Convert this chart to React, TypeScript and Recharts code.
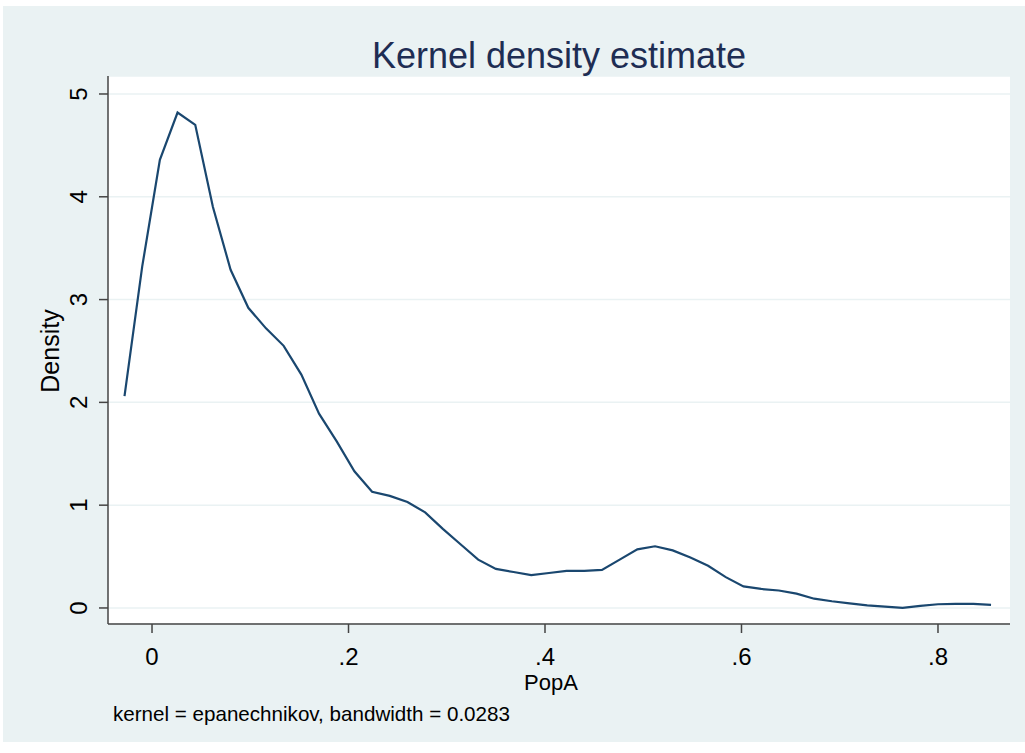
import React from "react";
import { LineChart, Line, XAxis, YAxis, CartesianGrid } from "recharts";

// kdensity evaluation grid (PopA) and estimated density
const popA = [
  -0.028, -0.01, 0.008, 0.026, 0.044, 0.062, 0.08, 0.098, 0.116, 0.134,
  0.152, 0.17, 0.188, 0.206, 0.224, 0.242, 0.26, 0.278, 0.296, 0.314,
  0.332, 0.35, 0.368, 0.386, 0.404, 0.422, 0.44, 0.458, 0.476, 0.494,
  0.512, 0.53, 0.548, 0.566, 0.584, 0.602, 0.62, 0.638, 0.656, 0.674,
  0.692, 0.71, 0.728, 0.746, 0.764, 0.782, 0.8, 0.818, 0.836, 0.854,
];
const density = [
  2.06, 3.32, 4.36, 4.82, 4.7, 3.9, 3.29, 2.92, 2.72, 2.55,
  2.27, 1.89, 1.62, 1.33, 1.13, 1.09, 1.03, 0.93, 0.77, 0.62,
  0.47, 0.38, 0.35, 0.32, 0.34, 0.36, 0.36, 0.37, 0.47, 0.57,
  0.6, 0.56, 0.49, 0.41, 0.3, 0.21, 0.185, 0.17, 0.14, 0.09,
  0.065, 0.045, 0.026, 0.013, 0.0, 0.02, 0.036, 0.04, 0.04, 0.03,
];

const xTicks = [0, 0.2, 0.4, 0.6, 0.8];
const xTickLabels = ["0", ".2", ".4", ".6", ".8"];
const yTicks = [0, 1, 2, 3, 4, 5];
const yTickLabels = ["0", "1", "2", "3", "4", "5"];

const data = popA.map((x, i) => ({ x, y: density[i] }));

const FONT = "'Liberation Sans', Arial, sans-serif";
const BG = "#eaf2f3";
const LINE = "#1a476f";
const AXIS = "#444";

const XTick = (props: any) => {
  const { x, payload } = props;
  const i = xTicks.indexOf(payload.value);
  return (
    <text x={x} y={665} textAnchor="middle" fontSize={24} fill="#000" fontFamily={FONT}>
      {xTickLabels[i] ?? payload.value}
    </text>
  );
};

const YTick = (props: any) => {
  const { y, payload } = props;
  const i = yTicks.indexOf(payload.value);
  return (
    <text
      x={87}
      y={y}
      transform={`rotate(-90 87 ${y})`}
      textAnchor="middle"
      fontSize={24}
      fill="#000"
      fontFamily={FONT}
    >
      {yTickLabels[i] ?? payload.value}
    </text>
  );
};

export default function App() {
  return (
    <div style={{ position: "relative", width: 1025, height: 753, background: "#fff" }}>
      <style>{"body{margin:0}"}</style>
      <div
        style={{ position: "absolute", left: 3, top: 6, width: 1022, height: 736, background: BG }}
      />
      <div style={{ position: "absolute", left: 0, top: 0 }}>
        <LineChart
          width={1025}
          height={753}
          data={data}
          margin={{ top: 76, right: 15, bottom: 0, left: 0 }}
        >
          <CartesianGrid vertical={false} fill="#fff" stroke={BG} strokeWidth={1.5} />
          <XAxis
            dataKey="x"
            type="number"
            domain={[-0.0448, 0.8733]}
            ticks={xTicks}
            interval={0}
            allowDataOverflow
            height={129}
            tickSize={9}
            stroke={AXIS}
            axisLine={{ stroke: AXIS, strokeWidth: 1.5 }}
            tickLine={{ stroke: AXIS, strokeWidth: 1.5 }}
            tick={<XTick />}
          />
          <YAxis
            type="number"
            domain={[-0.156, 5.175]}
            ticks={yTicks}
            interval={0}
            allowDataOverflow
            width={108}
            tickSize={9}
            stroke={AXIS}
            axisLine={{ stroke: AXIS, strokeWidth: 1.5 }}
            tickLine={{ stroke: AXIS, strokeWidth: 1.5 }}
            tick={<YTick />}
          />
          <Line
            type="linear"
            dataKey="y"
            stroke={LINE}
            strokeWidth={2.2}
            dot={false}
            isAnimationActive={false}
          />
        </LineChart>
      </div>
      <svg
        width={1025}
        height={753}
        style={{ position: "absolute", left: 0, top: 0, pointerEvents: "none" }}
      >
        <text x={559} y={68} textAnchor="middle" fontSize={36} fill="#1e2d53" fontFamily={FONT}>
          Kernel density estimate
        </text>
        <text
          x={59}
          y={351}
          transform="rotate(-90 59 351)"
          textAnchor="middle"
          fontSize={25}
          fill="#000"
          fontFamily={FONT}
        >
          Density
        </text>
        <text x={551} y={690} textAnchor="middle" fontSize={22} fill="#000" fontFamily={FONT}>
          PopA
        </text>
        <text x={113} y={721} fontSize={20.6} fill="#000" fontFamily={FONT}>
          kernel = epanechnikov, bandwidth = 0.0283
        </text>
      </svg>
    </div>
  );
}
